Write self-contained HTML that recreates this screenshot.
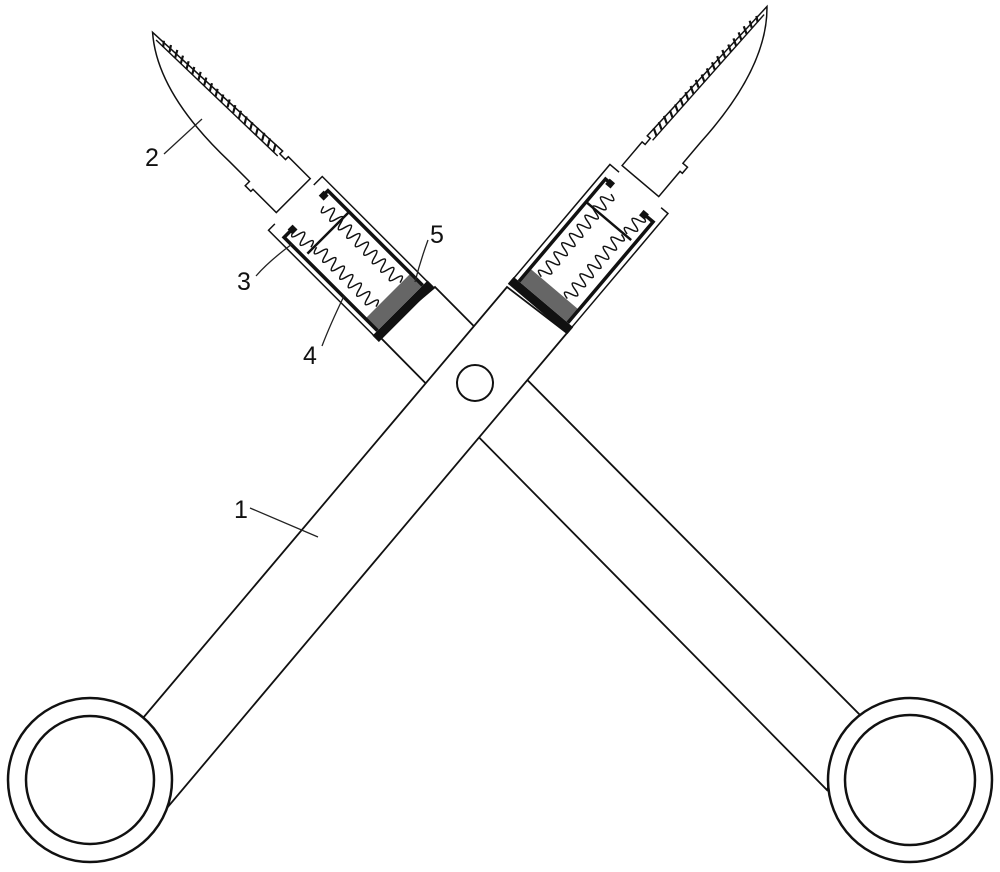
<!DOCTYPE html>
<html><head><meta charset="utf-8"><style>
html,body{margin:0;padding:0;background:#fff;}
svg{display:block;}
text{font-family:"Liberation Sans",sans-serif;font-size:25px;fill:#111;}
</style></head><body>
<svg width="1000" height="872" viewBox="0 0 1000 872" xmlns="http://www.w3.org/2000/svg">
<defs>
<g id="head" fill="none" stroke="#111">
  <rect x="97" y="-39" width="9" height="78" fill="#111" stroke="none"/>
  <rect x="106" y="-32" width="17" height="64" fill="#666" stroke="none"/>
  <path d="M97,-38 L254,-38 L254,-26 M97,38 L254,38 L254,29" stroke-width="1.5"/>
  <path d="M106,-32 L240,-32 L240,-23" stroke-width="3.5"/>
  <path d="M106,32 L238,32 L238,22" stroke-width="3.5"/>
  <rect x="236" y="-29" width="7" height="7" fill="#111" stroke="none"/>
  <rect x="234" y="17" width="7" height="7" fill="#111" stroke="none"/>
  <path d="M210,-32 L210,27" stroke-width="2.5"/>
  <path d="M124,-18 q3,-12 6,0 t6,0 t6,0 t6,0 t6,0 t6,0 t6,0 t6,0 t6,0 t6,0 t6,0 t6,0 t6,0 t6,0 t6,0 t6,0 t6,0 t6,0" stroke-width="1.5"/>
  <path d="M124,16 q3,-12 6,0 t6,0 t6,0 t6,0 t6,0 t6,0 t6,0 t6,0 t6,0 t6,0 t6,0 t6,0 t6,0 t6,0" stroke-width="1.5"/>
  <path d="M212,20 q3,-12 6,0 t6,0 t6,0 t6,0" stroke-width="1.5"/>
  <path d="M261,-28 L292,-28 L292,-24 L300,-24 L300,-28 L476,-20 Q430,20 330,17 L302,17 L302,23 L294,23 L294,20 L261,20 Z" fill="#fff" stroke-width="1.5"/>
  <path d="M300,-21 L468,-17" stroke-width="1.4"/>
  <path d="M306,-21 l4,-7 M314,-21 l4,-7 M322,-21 l4,-7 M330,-20 l4,-7 M338,-20 l4,-7 M346,-20 l4,-7 M354,-20 l4,-7 M362,-20 l4,-7 M370,-20 l4,-7 M378,-19 l4,-7 M386,-19 l4,-7 M394,-19 l4,-7 M402,-19 l4,-7 M410,-19 l4,-7 M418,-18 l4,-7 M426,-18 l4,-7 M434,-18 l4,-7 M442,-18 l4,-7 M450,-18 l4,-6 M458,-17 l4,-5" stroke-width="2.2"/>
</g>
</defs>

<polygon points="435,287 860,715 827,790 378,335" fill="#fff" stroke="#111" stroke-width="1.8"/>
<polygon points="143,718 507,287 567,333 167,808" fill="#fff" stroke="#111" stroke-width="1.8"/>

<g transform="translate(475,383) rotate(-49.8)"><use href="#head"/></g>
<g transform="translate(475,383) scale(-1,1) rotate(-45)"><use href="#head"/></g>

<circle cx="475" cy="383" r="18" fill="#fff" stroke="#111" stroke-width="2"/>

<circle cx="90" cy="780" r="82" fill="#fff" stroke="#111" stroke-width="2.5"/>
<circle cx="90" cy="780" r="64" fill="#fff" stroke="#111" stroke-width="2.5"/>
<circle cx="910" cy="780" r="82" fill="#fff" stroke="#111" stroke-width="2.5"/>
<circle cx="910" cy="780" r="65" fill="#fff" stroke="#111" stroke-width="2.5"/>

<g stroke="#222" stroke-width="1.3" fill="none">
  <path d="M164,154 L202,119"/>
  <path d="M256,276 Q268,262 292,244"/>
  <path d="M322,346 Q330,325 344,296"/>
  <path d="M428,240 Q420,262 415,282"/>
  <path d="M250,508 L318,537"/>
</g>
<text x="145" y="166">2</text>
<text x="237" y="290">3</text>
<text x="303" y="364">4</text>
<text x="430" y="243">5</text>
<text x="234" y="518">1</text>
</svg>
</body></html>
